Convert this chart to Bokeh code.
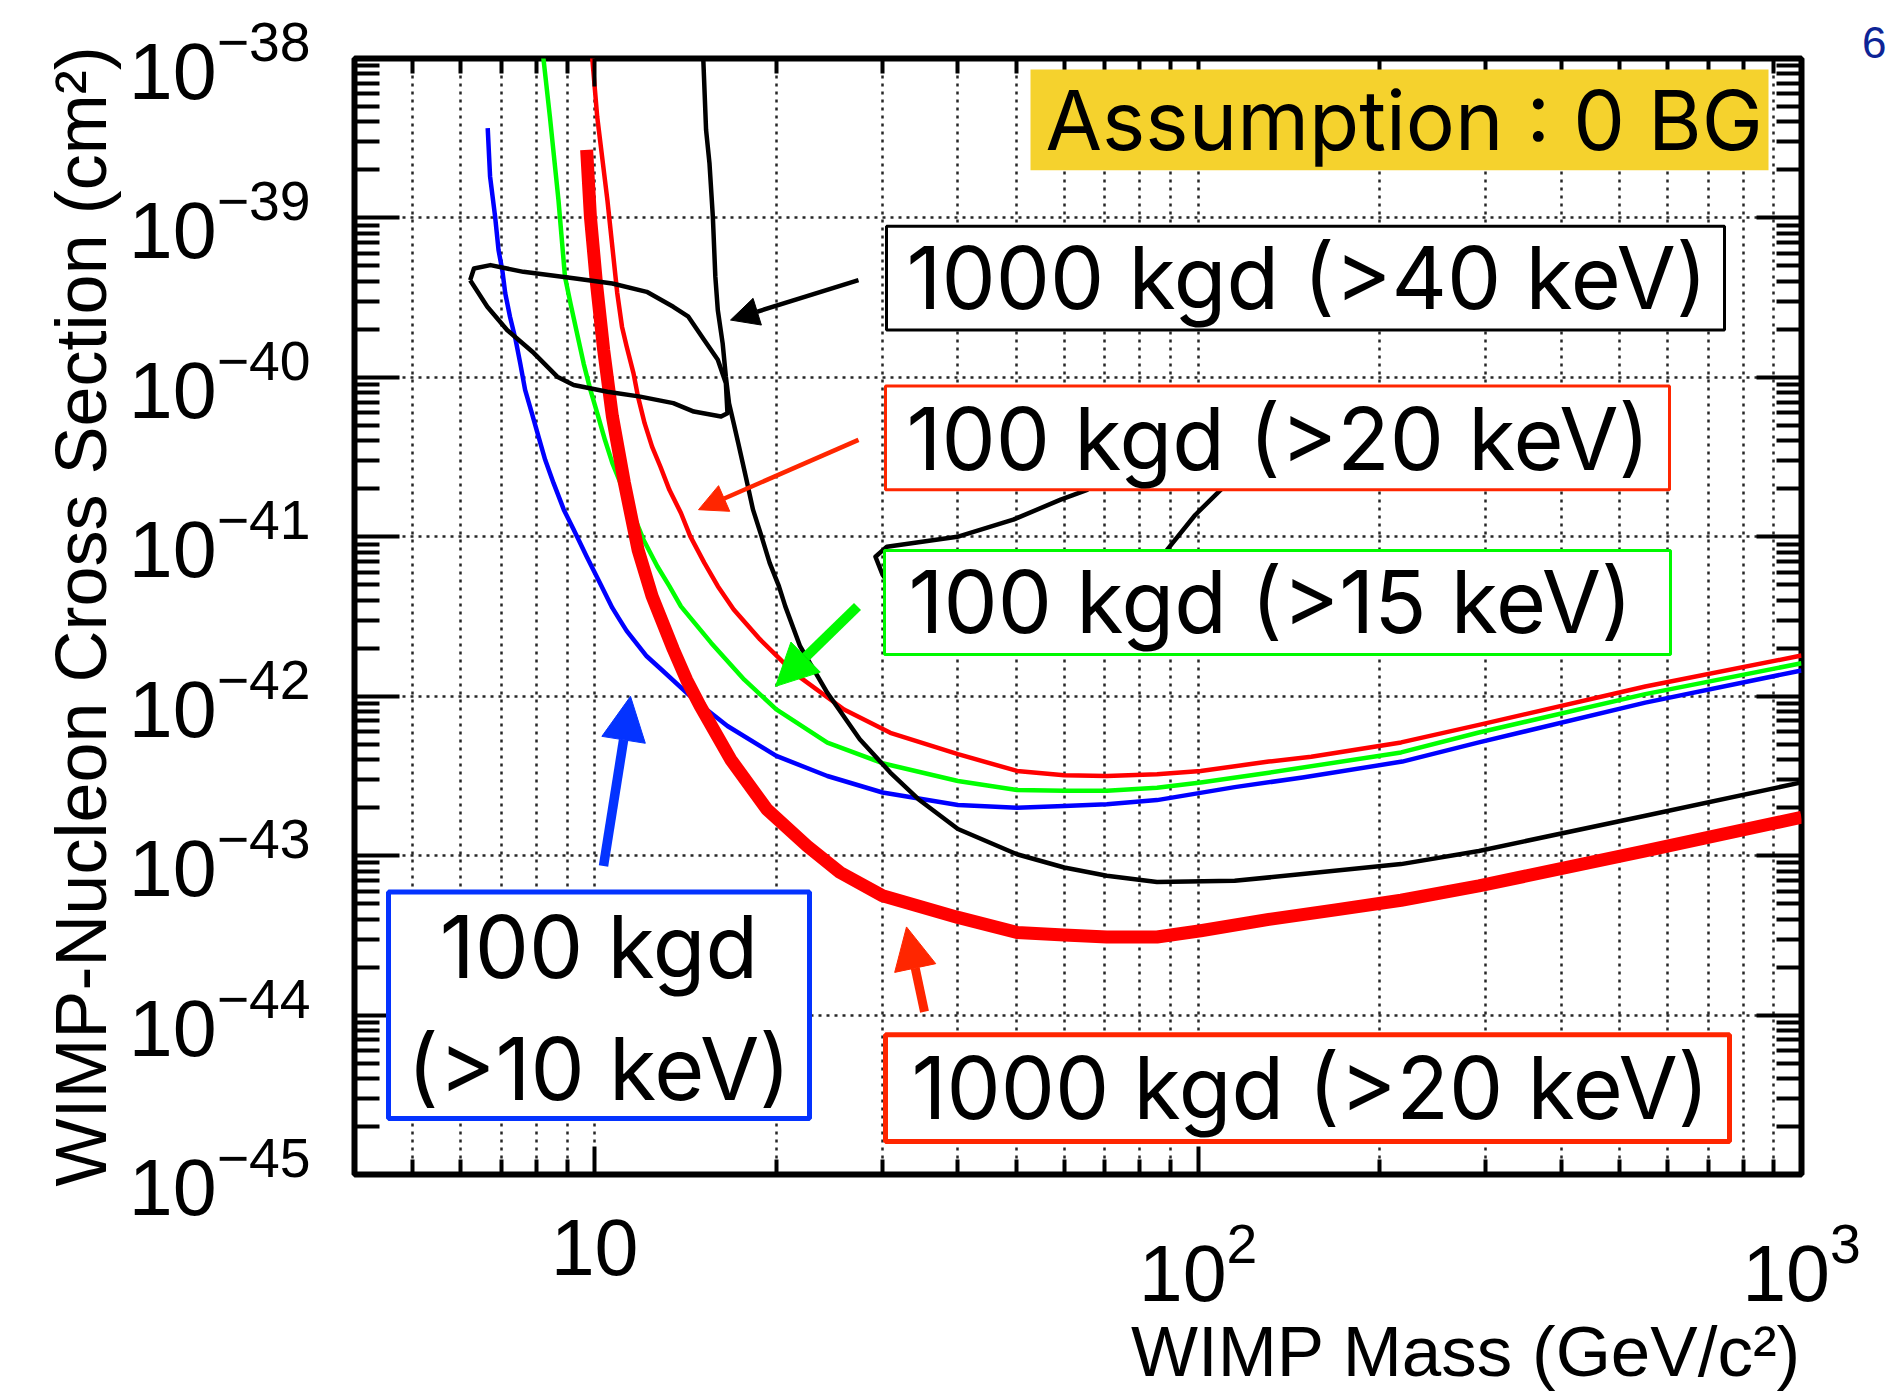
import math
from bokeh.plotting import figure
from bokeh.models import (LogAxis, FixedTicker, Label, BoxAnnotation, Arrow,
                          NormalHead, CustomJSTickFormatter, Title)
from bokeh.embed import file_html
from bokeh.resources import INLINE

# ---------------- values ----------------
x_major_ticks = [10, 100, 1000]
x_minor_ticks = [4, 5, 6, 7, 8, 9, 20, 30, 40, 50, 60, 70, 80, 90,
                 200, 300, 400, 500, 600, 700, 800, 900]
x_grid_ticks = [5, 6, 7, 8, 9, 10, 20, 30, 40, 50, 60, 70, 80, 90, 100,
                200, 300, 400, 500, 600, 700, 800, 900]
y_major_ticks = [1e-38, 1e-39, 1e-40, 1e-41, 1e-42, 1e-43, 1e-44, 1e-45]
y_grid_ticks = [1e-39, 1e-40, 1e-41, 1e-42, 1e-43, 1e-44]
y_minor_mantissas = [2, 3, 4, 5, 6, 7, 8, 9]

x_title = "WIMP Mass (GeV/c\u00b2)"
y_title = "WIMP-Nucleon Cross Section (cm\u00b2)"

# 100 kgd (>10 keV)  - blue
mass_100kgd_10keV = [6.65, 6.71, 6.84, 6.93, 7.03, 7.11, 7.24, 7.40, 7.53, 7.67,
                     7.87, 8.07, 8.28, 8.55, 8.89, 9.23, 9.70, 10.2, 10.7, 11.0,
                     11.3, 12.2, 12.9, 14.6, 16.6, 20.0, 24.3, 30.0, 40.0, 50.1,
                     60.0, 70.6, 85.5, 115, 149, 218, 292, 551, 1000]
sigma_100kgd_10keV = [3.66e-39, 1.82e-39, 1.02e-39, 6.28e-40, 4.71e-40, 3.37e-40,
                      2.40e-40, 1.71e-40, 1.22e-40, 8.34e-41, 5.96e-41, 4.26e-41,
                      3.04e-41, 2.17e-41, 1.48e-41, 1.11e-41, 7.53e-42, 5.14e-42,
                      3.58e-42, 3.02e-42, 2.57e-42, 1.78e-42, 1.47e-42, 9.55e-43,
                      6.50e-43, 4.22e-43, 3.16e-43, 2.49e-43, 2.08e-43, 2.00e-43,
                      2.05e-43, 2.10e-43, 2.23e-43, 2.69e-43, 3.09e-43, 3.89e-43,
                      5.13e-43, 9.12e-43, 1.45e-42]

# 100 kgd (>15 keV)  - green
mass_100kgd_15keV = [8.17, 8.43, 8.71, 8.93, 9.12, 9.35, 9.59, 9.84, 10.1, 10.4,
                     10.7, 12.05, 12.7, 13.3, 13.9, 15.6, 17.7, 20.0, 24.3, 30.0,
                     40.0, 50.1, 60.0, 70.6, 85.5, 101, 131, 217, 292, 551, 1000]
sigma_100kgd_15keV = [1.26e-38, 4.32e-39, 1.30e-39, 4.28e-40, 2.91e-40, 1.89e-40,
                      1.22e-40, 8.34e-41, 5.96e-41, 4.06e-41, 2.90e-41, 9.59e-42,
                      6.53e-42, 4.90e-42, 3.66e-42, 2.16e-42, 1.27e-42, 8.26e-43,
                      5.12e-43, 3.80e-43, 2.94e-43, 2.58e-43, 2.55e-43, 2.55e-43,
                      2.67e-43, 2.88e-43, 3.31e-43, 4.44e-43, 5.92e-43, 1.03e-42,
                      1.61e-42]

# 100 kgd (>20 keV)  - thin red
mass_100kgd_20keV = [9.86, 10.1, 10.5, 10.9, 11.1, 11.3, 11.6, 11.8, 12.1, 12.45,
                     12.85, 13.3, 13.9, 14.4, 15.2, 16.0, 17.0, 18.8, 21.4, 25.9,
                     30.9, 40.0, 50.1, 60.0, 70.6, 85.5, 101, 131, 154, 217,
                     292, 551, 1000]
sigma_100kgd_20keV = [1.26e-38, 4.29e-39, 1.29e-39, 3.39e-40, 2.08e-40, 1.56e-40,
                      1.06e-40, 7.57e-41, 5.16e-41, 3.68e-41, 2.76e-41, 1.97e-41,
                      1.41e-41, 1.01e-41, 6.86e-42, 4.90e-42, 3.50e-42, 2.27e-42,
                      1.40e-42, 8.26e-43, 5.89e-43, 4.33e-43, 3.40e-43, 3.19e-43,
                      3.16e-43, 3.24e-43, 3.40e-43, 3.89e-43, 4.17e-43, 5.13e-43,
                      6.61e-43, 1.15e-42, 1.80e-42]

# 1000 kgd (>20 keV) - thick red
mass_1000kgd_20keV = [9.70, 9.84, 10.07, 10.35, 10.7, 11.2, 11.8, 12.45, 13.5, 14.2,
                      14.96, 16.8, 19.3, 22.5, 25.5, 30.0, 40.0, 50.1, 60.0, 70.6,
                      85.5, 101, 131, 169, 217, 292, 551, 1000]
sigma_1000kgd_20keV = [2.67e-39, 1.02e-39, 3.89e-40, 1.49e-40, 5.70e-41, 2.19e-41,
                       8.32e-42, 4.24e-42, 1.97e-42, 1.27e-42, 8.67e-43, 4.02e-43,
                       1.95e-43, 1.15e-43, 7.85e-44, 5.60e-44, 4.10e-44, 3.30e-44,
                       3.18e-44, 3.09e-44, 3.09e-44, 3.38e-44, 3.98e-44, 4.57e-44,
                       5.25e-44, 6.46e-44, 1.07e-43, 1.74e-43]

# 1000 kgd (>40 keV) - black
mass_1000kgd_40keV = [15.1, 15.3, 15.5, 15.7, 15.85, 16.0, 16.3, 16.5, 16.7, 17.0,
                      17.3, 17.8, 18.3, 18.9, 19.5, 20.2, 20.7, 21.9, 24.3, 27.5,
                      30.9, 34.4, 40.0, 50.1, 60.0, 70.6, 85.5, 115, 149, 217,
                      292, 551, 1000]
sigma_1000kgd_40keV = [1.26e-38, 3.56e-39, 2.20e-39, 1.02e-39, 4.28e-40, 2.64e-40,
                       1.63e-40, 1.01e-40, 6.89e-41, 5.15e-41, 3.86e-41, 2.39e-41,
                       1.48e-41, 1.01e-41, 6.86e-42, 4.90e-42, 3.66e-42, 2.06e-42,
                       1.05e-42, 5.37e-43, 3.32e-43, 2.26e-43, 1.47e-43, 1.02e-43,
                       8.43e-44, 7.48e-44, 6.84e-44, 6.95e-44, 7.66e-44, 8.85e-44,
                       1.07e-43, 1.78e-43, 2.88e-43]

# closed black contours
contour_a_mass = [6.22, 6.31, 6.72, 7.62, 9.23, 10.7, 12.2, 13.5, 14.3, 15.2, 16.0,
                  16.5, 16.6, 16.2, 14.6, 13.5, 11.9, 10.5, 9.23, 8.67, 7.93, 7.16,
                  6.64, 6.27, 6.22]
contour_a_sigma = [4.07e-40, 4.82e-40, 5.06e-40, 4.59e-40, 4.18e-40, 3.88e-40,
                   3.44e-40, 2.77e-40, 2.40e-40, 1.71e-40, 1.29e-40, 9.18e-41,
                   5.96e-41, 5.68e-41, 6.10e-41, 6.89e-41, 7.57e-41, 8.13e-41,
                   8.95e-41, 1.01e-40, 1.42e-40, 1.98e-40, 2.77e-40, 3.88e-40,
                   4.07e-40]
contour_b_mass = [117.5, 109, 98.9, 88.9, 83.3, 47.0, 31.1, 30.0, 29.2, 30.5, 39.9,
                  49.4, 59.2, 65.5, 71.5, 93.3, 117.5]
contour_b_sigma = [4.06e-41, 1.97e-41, 1.37e-41, 8.30e-42, 5.38e-42, 4.04e-42,
                   4.80e-42, 5.79e-42, 7.50e-42, 8.67e-42, 1.00e-41, 1.28e-41,
                   1.71e-41, 1.97e-41, 4.06e-41, 6.25e-41, 4.06e-41]

# ---------------- layout (pixels of the 1896x1396 page) ----------------
W, H = 1896, 1396
FL, FR, FT, FB = 354, 1801, 58, 1176
X_LO, X_HI = 4.0, 1000.0
Y_LO, Y_HI = 1e-45, 1e-38


def mx(px):
    a, b = math.log10(X_LO), math.log10(X_HI)
    return 10 ** (a + (px - FL) / (FR - FL) * (b - a))


def my(py):
    a, b = math.log10(Y_LO), math.log10(Y_HI)
    return 10 ** (b - (py - FT) / (FB - FT) * (b - a))


p = figure(width=W, height=H, x_axis_type="log", y_axis_type="log",
           x_range=(X_LO, X_HI), y_range=(Y_LO, Y_HI),
           output_backend="svg", toolbar_location=None,
           min_border_left=FL, min_border_right=W - FR,
           min_border_top=FT, min_border_bottom=H - FB,
           background_fill_color="white", border_fill_color="white",
           outline_line_color="black", outline_line_width=6)

y_minor_ticks = [m * t for t in y_major_ticks[1:] for m in y_minor_mantissas]
blank = CustomJSTickFormatter(code="return ''")
AXFONT = "Liberation Sans"
BOXFONT = "Inter"


def style_axis(ax, major_ticks, minor_ticks, major_len, minor_len, labelled):
    ax.ticker = FixedTicker(ticks=major_ticks, minor_ticks=minor_ticks)
    ax.major_tick_in = major_len
    ax.major_tick_out = 0
    ax.minor_tick_in = minor_len
    ax.minor_tick_out = 0
    ax.major_tick_line_width = 4
    ax.minor_tick_line_width = 4
    ax.major_tick_line_color = "black"
    ax.minor_tick_line_color = "black"
    ax.axis_line_color = None
    if labelled:
        ax.major_label_text_font = AXFONT
        ax.major_label_text_font_size = "79px"
        ax.major_label_text_color = "black"
        ax.axis_label_text_font = AXFONT
        ax.axis_label_text_font_style = "normal"
        ax.axis_label_text_color = "black"
    else:
        ax.formatter = blank
        ax.major_label_text_font_size = "0px"
        ax.major_label_standoff = 0
        ax.axis_label = None


xax = p.below[0]
yax = p.left[0]
style_axis(xax, x_major_ticks, x_minor_ticks, 28, 15, True)
style_axis(yax, y_major_ticks, y_minor_ticks, 45, 25, True)
top_axis = LogAxis()
right_axis = LogAxis()
style_axis(top_axis, x_major_ticks, x_minor_ticks, 28, 15, False)
style_axis(right_axis, y_major_ticks, y_minor_ticks, 45, 25, False)
p.add_layout(top_axis, "above")
p.add_layout(right_axis, "right")

xax.major_label_overrides = {10: "10"}
xax.major_label_standoff = 45
yax.major_label_standoff = 44

yax.axis_label = y_title
yax.axis_label_text_font_size = "72px"
yax.axis_label_standoff = 5

# x title, right-aligned under the frame's right end
xax.axis_label = None
p.add_layout(Title(text=x_title, align="right", text_font=AXFONT,
                   text_font_size="71px", text_font_style="normal",
                   text_color="black", standoff=12), "below")

# page-number fragment at the top right of the slide
p.add_layout(Title(text="6", align="right", offset=-85, text_font=AXFONT,
                   text_font_size="44px", text_font_style="normal",
                   text_color="#0D2496", standoff=2), "above")

p.xgrid.ticker = FixedTicker(ticks=x_grid_ticks)
p.ygrid.ticker = FixedTicker(ticks=y_grid_ticks)
for g in (p.xgrid, p.ygrid):
    g.grid_line_color = "black"
    g.grid_line_width = 2.5
    g.grid_line_dash = "3 5"
    g.grid_line_alpha = 0.85

# ---------------- curves ----------------
LJ = dict(line_join="round")
p.line(mass_100kgd_10keV, sigma_100kgd_10keV, line_color="#0000FF", line_width=4.5, **LJ)
p.line(mass_100kgd_15keV, sigma_100kgd_15keV, line_color="#00FF00", line_width=4.5, **LJ)
p.line(mass_100kgd_20keV, sigma_100kgd_20keV, line_color="#FF0000", line_width=4.5, **LJ)
p.line(mass_1000kgd_20keV, sigma_1000kgd_20keV, line_color="#FF0000", line_width=13, **LJ)
p.line(mass_1000kgd_40keV, sigma_1000kgd_40keV, line_color="black", line_width=4.5, **LJ)
p.line(contour_a_mass, contour_a_sigma, line_color="black", line_width=4.5, **LJ)
p.line(contour_b_mass, contour_b_sigma, line_color="black", line_width=4.5, **LJ)

# ---------------- annotation boxes ----------------
RED = "#FF2600"
GREEN = "#00F900"
BLUE = "#0433FF"
BOX_SIZE = 86


def add_text(px, py, text, size, align="left"):
    # baseline correction measured from the first render
    p.add_layout(Label(x=mx(px), y=my(py - 0.35 * size), text=text,
                       text_font=BOXFONT, text_font_size=f"{size}px",
                       text_align=align, text_baseline="alphabetic",
                       text_color="black"))


def add_box(l, r, t, b, fill, line, lw):
    p.add_layout(BoxAnnotation(left=mx(l), right=mx(r), top=my(t), bottom=my(b),
                               fill_color=fill, fill_alpha=1.0,
                               line_color=line if line else "white",
                               line_alpha=1.0 if line else 0.0, line_width=lw))


add_box(1030, 1768, 69, 170, "#F5D22D", None, 0)
add_text(1045, 148.5, "Assumption : 0 BG", 82)

add_box(886, 1724, 226, 330, "white", "black", 3)
add_text(906, 308, "1000 kgd (>40 keV)", BOX_SIZE)

add_box(885, 1669, 386, 490, "white", RED, 3)
add_text(906, 469, "100 kgd (>20 keV)", BOX_SIZE)

add_box(884, 1670, 551, 655, "white", GREEN, 3)
add_text(908, 633, "100 kgd (>15 keV)", BOX_SIZE)

add_box(388, 809, 893, 1120, "white", BLUE, 5)
add_text(598.5, 978, "100 kgd", BOX_SIZE, align="center")
add_text(598.5, 1100, "(>10 keV)", BOX_SIZE, align="center")

add_box(885, 1729, 1036, 1143, "white", RED, 5)
add_text(911, 1119, "1000 kgd (>20 keV)", BOX_SIZE)

# ---------------- arrows ----------------


def add_arrow(x0, y0, x1, y1, color, lw, head):
    p.add_layout(Arrow(end=NormalHead(size=head, fill_color=color, line_color=color,
                                      line_width=1),
                       x_start=mx(x0), y_start=my(y0), x_end=mx(x1), y_end=my(y1),
                       line_color=color, line_width=lw))


add_arrow(858, 280, 730, 320, "black", 4.5, 28)
add_arrow(858, 440, 698, 510, RED, 4.5, 28)
add_arrow(857, 607, 775, 687, GREEN, 10, 42)
add_arrow(603, 867, 630, 697, BLUE, 9.5, 44)
add_arrow(924, 1013, 906, 928, RED, 9, 42)

open("out.html", "w").write(file_html(p, INLINE))
